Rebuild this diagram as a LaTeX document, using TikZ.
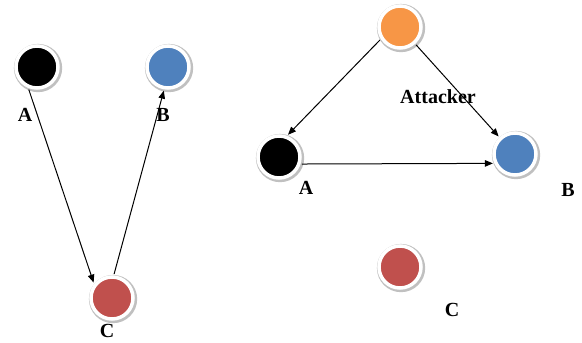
\documentclass[tikz,border=0pt]{standalone}
\usepackage{fontspec}
\setmainfont{Liberation Serif}
\usetikzlibrary{shadows,arrows.meta}
\definecolor{nblue}{HTML}{4F81BD}
\definecolor{nred}{HTML}{C0504D}
\definecolor{norange}{HTML}{F79646}
\begin{document}
\begin{tikzpicture}[x=1pt,y=-1pt,
  dot/.style={circle, minimum size=42pt, inner sep=0pt, draw=white, line width=3.5pt, outer sep=3pt,
    drop shadow={shadow xshift=0.9pt, shadow yshift=-0.9pt, shadow scale=1.15, fill=black!45, opacity=0.55}},
  lbl/.style={font=\bfseries\fontsize{20}{20}\selectfont, inner sep=0pt},
  arr/.style={-{Triangle[length=8pt,width=6.5pt]}, line width=1pt}]
\useasboundingbox (0,0) rectangle (582,343);
% left graph
\node[dot, fill=black] (la) at (37,67) {};
\node[dot, fill=nblue] (lb) at (168,67) {};
\node[dot, fill=nred] (lc) at (112,298) {};
\node[lbl] (lal) at (25,115) {A};
\node[lbl] (lbl) at (163,115) {B};
\node[lbl] (lcl) at (107,331) {C};
\draw[arr] (la.250) -- (lc.140);
\draw[arr] (lc.85) -- (lb.260);
% right graph
\node[dot, fill=norange] (att) at (400,27) {};
\node[dot, fill=black] (ra) at (279,157) {};
\node[dot, fill=nblue] (rb) at (515,154) {};
\node[dot, fill=nred] (rc) at (400,267) {};
\node[lbl] (attl) at (438,97) {Attacker};
\node[lbl] (ral) at (306,188) {A};
\node[lbl] (rbl) at (568,190) {B};
\node[lbl] (rcl) at (452,310) {C};
\draw[arr] (att.213) -- (ra.68);
\draw[arr] (att.312) -- (rb.133);
\draw[arr] (ra.-17) -- (rb.203);
\end{tikzpicture}
\end{document}
